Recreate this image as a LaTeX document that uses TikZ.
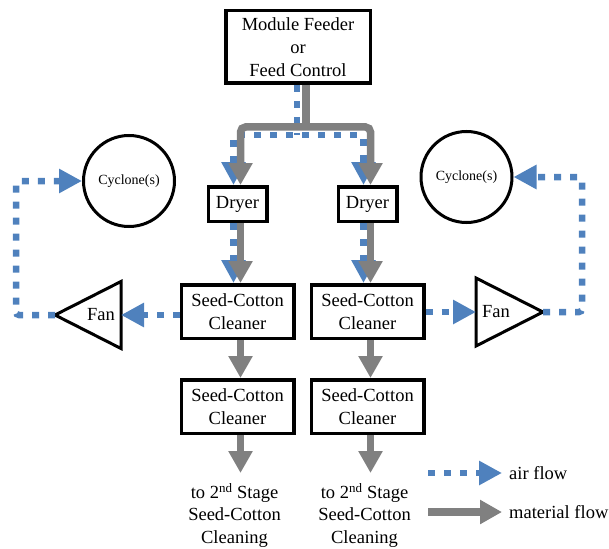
\documentclass[tikz,border=0pt]{standalone}
\usepackage{fontspec}
\setmainfont{Liberation Serif}
\usetikzlibrary{positioning,arrows.meta}
\definecolor{airblue}{RGB}{79,129,189}
\definecolor{matgray}{RGB}{128,128,128}

\begin{document}
\begin{tikzpicture}[x=1pt,y=-1pt,
    box/.style={draw,line width=3.5pt,inner sep=0pt,align=center,font=\fontsize{18.5}{23}\selectfont},
    cyclone/.style={draw,circle,line width=3pt,minimum size=91pt,inner sep=0pt,font=\fontsize{14}{17}\selectfont},
    flowtext/.style={inner sep=0pt,align=center,font=\fontsize{18.5}{22.5}\selectfont},
    fanline/.style={draw,line width=3pt},
    airhead/.tip={Triangle[length=23pt,width=23pt]},
    mathead/.tip={Triangle[length=22pt,width=23pt]},
    air/.style={draw=airblue,line width=6.5pt,dash pattern=on 7pt off 9pt,rounded corners=3pt,-airhead},
    mat/.style={draw=matgray,line width=7.5pt,rounded corners=5pt,-mathead}]
    \useasboundingbox (0,0) rectangle (609,548);
    % feed and dryers
    \node[box,minimum width=144.5pt,minimum height=72.5pt] (feed) at (298,47) {Module Feeder\\or\\Feed Control};
    \node[box,minimum width=58.5pt,minimum height=34.5pt] (dryL) at (237.5,204) {Dryer};
    \node[box,minimum width=58.5pt,minimum height=34.5pt,right=68pt of dryL] (dryR) {Dryer};
    % cleaners
    \node[box,minimum width=112.5pt,minimum height=53.5pt,below=60pt of dryL] (clnL) {Seed-Cotton\\Cleaner};
    \node[box,minimum width=112.5pt,minimum height=53.5pt,below=60pt of dryR] (clnR) {Seed-Cotton\\Cleaner};
    \node[box,minimum width=112.5pt,minimum height=53.5pt,below=38pt of clnL] (clnLL) {Seed-Cotton\\Cleaner};
    \node[box,minimum width=112.5pt,minimum height=53.5pt,below=38pt of clnR] (clnRR) {Seed-Cotton\\Cleaner};
    % outlets
    \node[flowtext,inner ysep=10pt,below=38pt of clnLL,xshift=-3pt] (toL) {to 2\textsuperscript{nd} Stage\\Seed-Cotton\\Cleaning};
    \node[flowtext,inner ysep=10pt,below=38pt of clnRR,xshift=-3pt] (toR) {to 2\textsuperscript{nd} Stage\\Seed-Cotton\\Cleaning};
    % cyclones and fans
    \node[cyclone] (cycL) at (129,181) {Cyclone(s)};
    \node[cyclone] (cycR) at (466.5,177) {Cyclone(s)};
    \coordinate (fanLtip) at (55,315);
    \coordinate (fanLbase) at (121,315);
    \coordinate (fanRtip) at (543,312);
    \coordinate (fanRbase) at (476,312);
    \draw[fanline] (fanLtip) -- ++(66,-33.5) -- ++(0,67) -- cycle;
    \draw[fanline] (fanRtip) -- ++(-67,-34) -- ++(0,68) -- cycle;
    \node[flowtext] (fanL) at (101,315) {Fan};
    \node[flowtext] (fanR) at (496,312) {Fan};
    % air flow
    \coordinate (airsplit) at (297,135);
    \draw[air,-] (feed.south -| airsplit) -- (airsplit);
    \draw[air,airhead-airhead] ([xshift=-4pt]dryL.north) |- (airsplit) -| ([xshift=-4pt]dryR.north);
    \draw[air] ([xshift=-4pt]dryL.south) -- ([xshift=-4pt]clnL.north);
    \draw[air] ([xshift=-4pt]dryR.south) -- ([xshift=-4pt]clnR.north);
    \draw[air] (clnL.west |- fanLbase) -- (fanLbase);
    \draw[air] (clnR.east |- fanRbase) -- (fanRbase);
    \coordinate (loopL) at (16,181);
    \coordinate (loopR) at (582,177);
    \draw[air] (fanLtip) -| (loopL) -- (cycL.west);
    \draw[air] (fanRtip) -| (loopR) -- (cycR.east);
    % material flow
    \coordinate (matsplit) at (306,127);
    \draw[mat,-] (feed.south -| matsplit) -- (matsplit);
    \draw[mat,mathead-mathead] ([xshift=3pt]dryL.north) |- (matsplit) -| ([xshift=3pt]dryR.north);
    \draw[mat] ([xshift=3pt]dryL.south) -- ([xshift=3pt]clnL.north);
    \draw[mat] ([xshift=3pt]dryR.south) -- ([xshift=3pt]clnR.north);
    \draw[mat] ([xshift=3pt]clnL.south) -- ([xshift=3pt]clnLL.north);
    \draw[mat] ([xshift=3pt]clnR.south) -- ([xshift=3pt]clnRR.north);
    \draw[mat] ([xshift=3pt]clnLL.south) -- ([xshift=6pt]toL.north);
    \draw[mat] ([xshift=3pt]clnRR.south) -- ([xshift=6pt]toR.north);
    % legend
    \coordinate (airstart) at (428,473);
    \coordinate (matstart) at (428,512);
    \node[flowtext,inner xsep=7pt,anchor=west] (airtext) at (502,473) {air flow};
    \node[flowtext,inner xsep=7pt,anchor=west] (mattext) at (502,512) {material flow};
    \draw[air] (airstart) -- (airtext.west);
    \draw[mat] (matstart) -- (mattext.west);
\end{tikzpicture}
\end{document}
